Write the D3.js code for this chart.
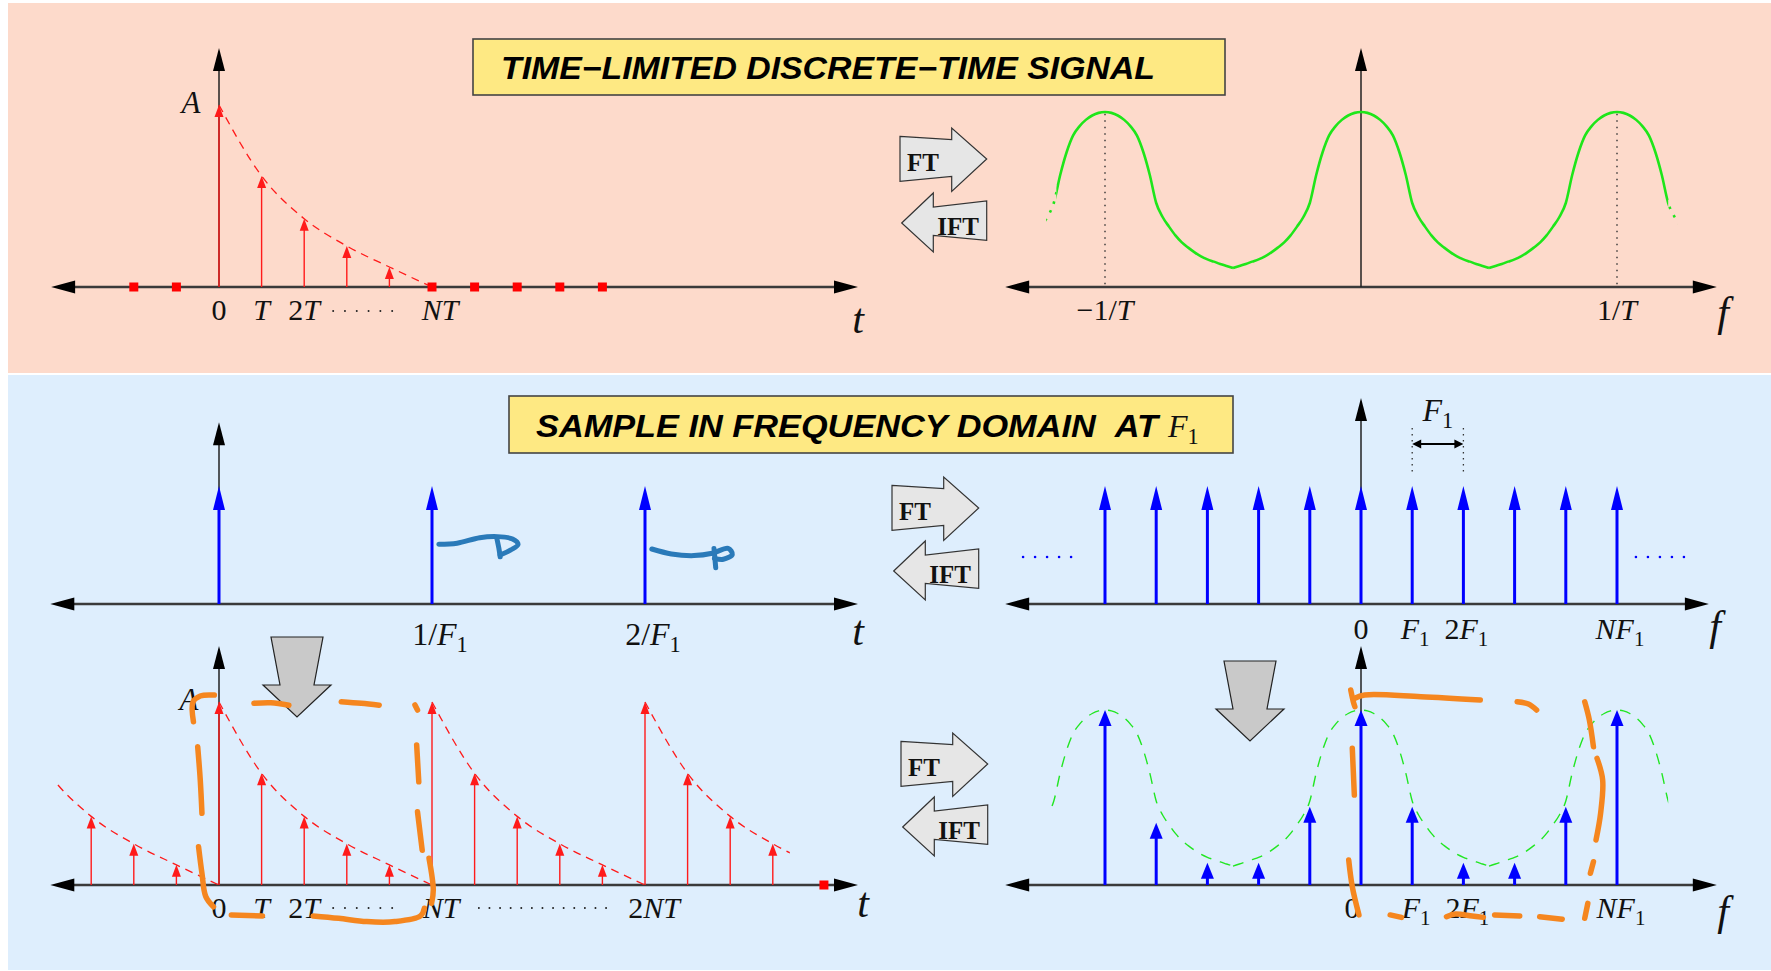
<!DOCTYPE html>
<html>
<head>
<meta charset="utf-8">
<script src="https://cdn.jsdelivr.net/npm/d3@7"></script>
<style>
  html, body { margin: 0; padding: 0; background: #fff; }
  svg { display: block; }
</style>
</head>
<body>
<svg id="chart" width="1771" height="971"></svg>
<script>
// ---------- data ----------
// time-limited sequence, t in units of T, amplitude relative to A
const pulseT = [0, 1, 2, 3, 4];
const pulseA = [1, 0.61, 0.375, 0.225, 0.11];
const envelopeT = [0, 1, 2, 3, 4, 5];
const envelopeA = [1, 0.61, 0.375, 0.225, 0.11, 0];
const zeroT = [-2, -1, 5, 6, 7, 8, 9];

// periodic extension (bottom left)
const periodicT = [-3, -2, -1, 0, 1, 2, 3, 4, 5, 6, 7, 8, 9, 10, 11, 12, 13];
const periodicA = [0.375, 0.225, 0.11, 1, 0.61, 0.375, 0.225, 0.11, 1, 0.61, 0.375, 0.225, 0.11, 1, 0.61, 0.375, 0.225];
const envelopeShifts = [-5, 0, 5, 10];
const strayZeroT = [14.2];

// impulse train in time (middle left), t in units of T
const combT = [0, 5, 10];

// spectrum, one period, f in units of 1/T
const specF = [-0.5, -0.475, -0.45, -0.425, -0.4, -0.375, -0.35, -0.325, -0.3, -0.275, -0.25,
  -0.225, -0.2, -0.175, -0.15, -0.125, -0.1, -0.075, -0.05, -0.025, 0,
  0.025, 0.05, 0.075, 0.1, 0.125, 0.15, 0.175, 0.2, 0.225, 0.25,
  0.275, 0.3, 0.325, 0.35, 0.375, 0.4, 0.425, 0.45, 0.475, 0.5];
const specMag = [0.108, 0.12, 0.132, 0.145, 0.158, 0.175, 0.198, 0.225, 0.255, 0.295, 0.345,
  0.40, 0.48, 0.64, 0.77, 0.865, 0.918, 0.955, 0.98, 0.995, 1,
  0.995, 0.98, 0.955, 0.918, 0.865, 0.77, 0.64, 0.48, 0.40, 0.345,
  0.295, 0.255, 0.225, 0.198, 0.175, 0.158, 0.145, 0.132, 0.12, 0.108];
const specShifts = [-1, 0, 1];

// frequency samples, k in units of F1
const combK = [-5, -4, -3, -2, -1, 0, 1, 2, 3, 4, 5];
const sampledK = [-5, -4, -3, -2, -1, 0, 1, 2, 3, 4, 5];
const sampledMag = [1, 0.356, 0.127, 0.127, 0.447, 1, 0.447, 0.127, 0.127, 0.447, 1];

// tick labels
const topLeftTicks = [0, 1, 2, 5];
const topLeftLabels = ["0", "T", "2T", "NT"];
const topRightTicks = [-1, 1];
const topRightLabels = ["\u22121/T", "1/T"];
const midLeftTicks = [5, 10];
const midLeftLabels = ["1/F_1", "2/F_1"];
const rightTicksK = [0, 1, 2, 5];
const rightLabels = ["0", "F_1", "2F_1", "NF_1"];
const botLeftTicks = [0, 1, 2, 5, 10];
const botLeftLabels = ["0", "T", "2T", "NT", "2NT"];

// hand-drawn marks, bottom left [t, a]
const orangeLeft = [
  [[-0.60, 0.892], [-0.61, 1.0], [-0.44, 1.033], [-0.11, 1.038]],
  [[0.82, 0.993], [1.22, 0.996], [1.64, 0.982]],
  [[2.87, 1.002], [3.34, 0.993], [3.76, 0.982]],
  [[4.60, 0.984], [4.66, 0.956]],
  [[4.64, 0.765], [4.69, 0.564]],
  [[4.66, 0.40], [4.77, 0.19]],
  [[4.93, 0.146], [5.03, -0.027], [4.99, -0.10]],
  [[-0.50, 0.756], [-0.44, 0.574], [-0.40, 0.392]],
  [[-0.48, 0.209], [-0.40, 0.064], [-0.31, -0.064], [-0.13, -0.119]],
  [[0.29, -0.164], [1.02, -0.169]],
  [[2.21, -0.169], [2.81, -0.182], [3.47, -0.2], [4.13, -0.2], [4.73, -0.169], [4.82, -0.127]]
];
// hand-drawn marks, bottom right [k, magnitude]
const orangeRight = [
  [[-0.20, 1.114], [-0.15, 1.047], [-0.12, 1.019]],
  [[-0.12, 1.067], [0.07, 1.086], [1.17, 1.076], [2.33, 1.057]],
  [[3.05, 1.047], [3.27, 1.034], [3.43, 1.0]],
  [[4.37, 1.047], [4.46, 0.943], [4.54, 0.79]],
  [[4.61, 0.724], [4.72, 0.6], [4.68, 0.41], [4.59, 0.257]],
  [[4.54, 0.133], [4.48, 0.067]],
  [[4.43, -0.105], [4.37, -0.19]],
  [[-0.17, 0.781], [-0.13, 0.514]],
  [[-0.24, 0.143], [-0.17, -0.01], [-0.04, -0.171]],
  [[0.57, -0.171], [0.79, -0.185]],
  [[1.67, -0.181], [1.84, -0.166], [2.17, -0.177], [2.39, -0.185]],
  [[2.61, -0.171], [3.10, -0.177]],
  [[3.49, -0.181], [3.93, -0.196]]
];
// hand-drawn marks, middle left [t, a]
const blueScribbles = [
  [[5.16, 0.506], [5.59, 0.515], [6.12, 0.562], [6.54, 0.571], [6.89, 0.551], [7.02, 0.506], [6.85, 0.458], [6.6, 0.415]],
  [[6.52, 0.56], [6.57, 0.472], [6.6, 0.40]],
  [[10.16, 0.466], [10.62, 0.424], [11.15, 0.41], [11.58, 0.43], [11.95, 0.472], [12.05, 0.421], [11.84, 0.379], [11.63, 0.387]],
  [[11.62, 0.47], [11.66, 0.308]]
];

// ---------- setup ----------
const W = 1771, H = 971;
const svg = d3.select("#chart");
const serif = "'Liberation Serif', 'Times New Roman', serif";
const sans = "'Liberation Sans', Arial, sans-serif";

const xLeft = d3.scaleLinear().domain([0, 5]).range([219, 432]);     // t / T
const xRight = d3.scaleLinear().domain([0, 1]).range([1361, 1617]);  // f * T
const xRightK = d3.scaleLinear().domain([0, 5]).range([1361, 1617]); // f / F1

const yTopL = d3.scaleLinear().domain([0, 1]).range([287, 105]);
const yTopR = d3.scaleLinear().domain([0, 1]).range([287, 112]);
const yMidL = d3.scaleLinear().domain([0, 1]).range([604, 486]);
const yMidR = d3.scaleLinear().domain([0, 1]).range([604, 486]);
const yBotL = d3.scaleLinear().domain([0, 1]).range([885, 702]);
const yBotR = d3.scaleLinear().domain([0, 1]).range([885, 710]);

// backgrounds
svg.append("rect").attr("x", 8).attr("y", 3).attr("width", W - 8).attr("height", 370).attr("fill", "#fddacb");
svg.append("rect").attr("x", 8).attr("y", 375).attr("width", W - 8).attr("height", H - 376).attr("fill", "#deeefd");

const defs = svg.append("defs");
let clipId = 0;
function clipX(x0, x1) {
  const id = "clip" + (clipId++);
  defs.append("clipPath").attr("id", id).append("rect")
    .attr("x", x0).attr("y", 0).attr("width", x1 - x0).attr("height", H);
  return "url(#" + id + ")";
}

function tri(g, pts, color) {
  g.append("polygon").attr("points", pts.map(p => p.join(",")).join(" ")).attr("fill", color);
}

// axes: double-headed horizontal, single vertical
function drawAxes(x, y, xMin, xMax, yMax) {
  const g = svg.append("g");
  const x0 = x(0), y0 = y(0), L = 24, hw = 6.5;
  const xa = x(xMin), xb = x(xMax);
  g.append("line").attr("x1", xa + L - 2).attr("x2", xb - L + 2).attr("y1", y0).attr("y2", y0)
    .attr("stroke", "#3a3a3a").attr("stroke-width", 2.4);
  tri(g, [[xa, y0], [xa + L, y0 - hw], [xa + L, y0 + hw]], "#000");
  tri(g, [[xb, y0], [xb - L, y0 - hw], [xb - L, y0 + hw]], "#000");
  const yt = y(yMax);
  g.append("line").attr("x1", x0).attr("x2", x0).attr("y1", y0).attr("y2", yt + 20)
    .attr("stroke", "#222").attr("stroke-width", 1.5);
  tri(g, [[x0, yt], [x0 - 6, yt + 23], [x0 + 6, yt + 23]], "#000");
}

// stem with an arrow head
function drawStems(xs, ys, x, y, color, width, half, headH) {
  const g = svg.append("g");
  xs.forEach((v, i) => {
    const px = x(v), base = y(0), tip = y(ys[i]);
    g.append("line").attr("x1", px).attr("x2", px).attr("y1", base).attr("y2", tip + headH - 1)
      .attr("stroke", color).attr("stroke-width", width);
    tri(g, [[px, tip], [px - half, tip + headH], [px + half, tip + headH]], color);
  });
}

// math-style label: letters italic, digits upright, "_x" subscript
function mathText(g, x, y, str, size, anchor) {
  const t = g.append("text").attr("x", x).attr("y", y).attr("text-anchor", anchor || "middle")
    .attr("font-family", serif).attr("font-size", size).attr("fill", "#111");
  let i = 0, shifted = false;
  while (i < str.length) {
    const ch = str[i];
    if (ch === "_") {
      t.append("tspan").attr("font-size", size * 0.7).attr("dy", size * 0.22).text(str[i + 1]);
      shifted = true; i += 2; continue;
    }
    const sp = t.append("tspan").text(ch);
    if (/[A-Za-z]/.test(ch)) sp.attr("font-style", "italic");
    if (shifted) { sp.attr("dy", -size * 0.22); shifted = false; }
    i++;
  }
  return t;
}

function dotRow(g, x0, x1, y, color, gap, w) {
  g.append("line").attr("x1", x0).attr("x2", x1 + 1).attr("y1", y).attr("y2", y)
    .attr("stroke", color).attr("stroke-width", w).attr("stroke-linecap", "round")
    .attr("stroke-dasharray", "0," + gap);
}

// ---------- title boxes ----------
function titleBox(x, y, w, h) {
  svg.append("rect").attr("x", x).attr("y", y).attr("width", w).attr("height", h)
    .attr("fill", "#fee983").attr("stroke", "#444").attr("stroke-width", 1.6);
}
titleBox(473, 39, 752, 56);
svg.append("text").attr("x", 501).attr("y", 79).attr("font-family", sans).attr("font-weight", "bold")
  .attr("font-style", "italic").attr("font-size", 31).attr("textLength", 654).attr("lengthAdjust", "spacingAndGlyphs")
  .attr("fill", "#000").text("TIME\u2212LIMITED DISCRETE\u2212TIME SIGNAL");

titleBox(509, 396, 724, 57);
svg.append("text").attr("x", 536).attr("y", 437).attr("font-family", sans).attr("font-weight", "bold")
  .attr("font-style", "italic").attr("font-size", 31).attr("textLength", 622).attr("lengthAdjust", "spacingAndGlyphs")
  .attr("fill", "#000").text("SAMPLE IN FREQUENCY DOMAIN\u00a0\u00a0AT");
mathText(svg, 1168, 437, "F_1", 32, "start");

// ---------- top left: time-limited sequence ----------
drawAxes(xLeft, yTopL, -3.94, 15.0, 1.313);
const line = d3.line().curve(d3.curveMonotoneX);
svg.append("path")
  .attr("d", line(envelopeT.map((t, i) => [xLeft(t), yTopL(envelopeA[i])])))
  .attr("fill", "none").attr("stroke", "#ff1a1a").attr("stroke-width", 1.3).attr("stroke-dasharray", "8,6");
drawStems(pulseT, pulseA, xLeft, yTopL, "#ff1a1a", 1.4, 4.5, 12);
svg.append("g").selectAll("rect").data(zeroT).join("rect")
  .attr("x", d => xLeft(d) - 4.5).attr("y", yTopL(0) - 4.5).attr("width", 9).attr("height", 9).attr("fill", "#ff0000");
{
  const g = svg.append("g");
  topLeftTicks.forEach((t, i) => mathText(g, xLeft(t) + (i === 3 ? 8 : 0), 320, topLeftLabels[i], 30));
  dotRow(g, xLeft(2.68), xLeft(4.06), 311, "#222", 11.8, 2);
  mathText(g, 191, 113, "A", 31);
  mathText(g, 858, 333, "t", 42);
}

// ---------- top right: spectrum ----------
drawAxes(xRight, yTopR, -1.39, 1.39, 1.366);
{
  const g = svg.append("g");
  [-1, 1].forEach(f => g.append("line").attr("x1", xRight(f)).attr("x2", xRight(f))
    .attr("y1", yTopR(0.99)).attr("y2", yTopR(0)).attr("stroke", "#333").attr("stroke-width", 1.4)
    .attr("stroke-dasharray", "1.5,5"));
  const solid = clipX(xRight(-1.19), xRight(1.2));
  const tails = [clipX(xRight(-1.23), xRight(-1.19)), clipX(xRight(1.2), xRight(1.235))];
  specShifts.forEach(s => {
    const d = line(specF.map((f, i) => [xRight(f + s), yTopR(specMag[i])]));
    g.append("path").attr("d", d).attr("clip-path", solid).attr("fill", "none")
      .attr("stroke", "#1ee61a").attr("stroke-width", 2.6);
    tails.forEach(c => g.append("path").attr("d", d).attr("clip-path", c).attr("fill", "none")
      .attr("stroke", "#1ee61a").attr("stroke-width", 2.6).attr("stroke-dasharray", "2.5,7"));
  });
  topRightTicks.forEach((f, i) => mathText(g, xRight(f), 320, topRightLabels[i], 30));
  mathText(g, 1723, 326, "f", 42);
}

// ---------- middle left: impulse train in time ----------
drawAxes(xLeft, yMidL, -3.96, 15.0, 1.54);
drawStems(combT, combT.map(() => 1), xLeft, yMidL, "#0000ff", 3, 6, 24);
{
  const g = svg.append("g");
  midLeftTicks.forEach((t, i) => mathText(g, xLeft(t) + 8, 645, midLeftLabels[i], 32));
  mathText(g, 858, 645, "t", 42);
}

// ---------- middle right: impulse train in frequency ----------
drawAxes(xRight, yMidR, -1.39, 1.359, 1.746);
drawStems(combK, combK.map(() => 1), xRightK, yMidR, "#0000ff", 3, 6, 24);
{
  const g = svg.append("g");
  dotRow(g, xRight(-1.32), xRight(-1.133), 557, "#0000ff", 12, 2.6);
  dotRow(g, xRight(1.074), xRight(1.262), 557, "#0000ff", 12, 2.6);
  [1, 2].forEach(k => g.append("line").attr("x1", xRightK(k)).attr("x2", xRightK(k))
    .attr("y1", 428).attr("y2", 476).attr("stroke", "#333").attr("stroke-width", 1.3).attr("stroke-dasharray", "1.5,4.5"));
  const xa = xRightK(1), xb = xRightK(2), ya = 444;
  g.append("line").attr("x1", xa + 6).attr("x2", xb - 6).attr("y1", ya).attr("y2", ya).attr("stroke", "#000").attr("stroke-width", 1.8);
  tri(g, [[xa, ya], [xa + 9, ya - 4.5], [xa + 9, ya + 4.5]], "#000");
  tri(g, [[xb, ya], [xb - 9, ya - 4.5], [xb - 9, ya + 4.5]], "#000");
  mathText(g, (xa + xb) / 2, 421, "F_1", 32);
  rightTicksK.forEach((k, i) => mathText(g, xRightK(k) + (i === 0 ? 0 : 3), 639, rightLabels[i], 30));
  mathText(g, 1715, 640, "f", 42);
}

// ---------- bottom left: periodic extension ----------
drawAxes(xLeft, yBotL, -3.96, 15.0, 1.306);
{
  const g = svg.append("g");
  const c = clipX(xLeft(-3.83), xLeft(13.4));
  envelopeShifts.forEach(s => g.append("path")
    .attr("d", line(envelopeT.map((t, i) => [xLeft(t + s), yBotL(envelopeA[i])])))
    .attr("clip-path", c).attr("fill", "none").attr("stroke", "#ff1a1a").attr("stroke-width", 1.3)
    .attr("stroke-dasharray", "8,6"));
}
drawStems(periodicT, periodicA, xLeft, yBotL, "#ff1a1a", 1.4, 4.5, 12);
svg.append("g").selectAll("rect").data(strayZeroT).join("rect")
  .attr("x", d => xLeft(d) - 4.5).attr("y", yBotL(0) - 4.5).attr("width", 9).attr("height", 9).attr("fill", "#ff0000");
{
  const g = svg.append("g");
  botLeftTicks.forEach((t, i) => mathText(g, xLeft(t) + (i >= 3 ? 9 : 0), 918, botLeftLabels[i], 30));
  dotRow(g, xLeft(2.68), xLeft(4.06), 908, "#222", 11.8, 2);
  dotRow(g, xLeft(6.1), xLeft(9.1), 908, "#222", 10.6, 2);
  mathText(g, 189, 710, "A", 31);
  mathText(g, 863, 917, "t", 42);
}

// ---------- bottom right: sampled spectrum ----------
drawAxes(xRight, yBotR, -1.39, 1.39, 1.366);
{
  const g = svg.append("g");
  const c = clipX(xRight(-1.215), xRight(1.2));
  specShifts.forEach(s => g.append("path")
    .attr("d", line(specF.map((f, i) => [xRight(f + s), yBotR(specMag[i])])))
    .attr("clip-path", c).attr("fill", "none").attr("stroke", "#22e622").attr("stroke-width", 1.4)
    .attr("stroke-dasharray", "11,9"));
}
drawStems(sampledK, sampledMag, xRightK, yBotR, "#0000ff", 3, 6.5, 16);
{
  const g = svg.append("g");
  rightTicksK.forEach((k, i) => mathText(g, xRightK(k) + (i === 0 ? -9 : 4), 918, rightLabels[i], 30));
  mathText(g, 1723, 925, "f", 42);
}

// ---------- FT / IFT block arrows ----------
const ftShape = [[0, 8.4], [51.7, 11.7], [51.7, 0], [86.7, 31], [51.7, 63.4], [51.7, 48.4], [0, 53.4]];
const iftShape = [[1.7, 30], [33.3, 0], [33.3, 14], [86.7, 8], [86.7, 47.3], [33.3, 42.3], [33.3, 59]];
function ftPair(x, yFt, yIft) {
  const g = svg.append("g");
  g.append("polygon").attr("points", ftShape.map(p => [x + p[0], yFt + p[1]].join(",")).join(" "))
    .attr("fill", "#e6e6e6").attr("stroke", "#333").attr("stroke-width", 1.2);
  g.append("text").attr("x", x + 23).attr("y", yFt + 43).attr("text-anchor", "middle")
    .attr("font-family", serif).attr("font-weight", "bold").attr("font-size", 25).attr("fill", "#111").text("FT");
  g.append("polygon").attr("points", iftShape.map(p => [x + p[0], yIft + p[1]].join(",")).join(" "))
    .attr("fill", "#e6e6e6").attr("stroke", "#333").attr("stroke-width", 1.2);
  g.append("text").attr("x", x + 58).attr("y", yIft + 42).attr("text-anchor", "middle")
    .attr("font-family", serif).attr("font-weight", "bold").attr("font-size", 25).attr("fill", "#111").text("IFT");
}
ftPair(900, 128, 193);
ftPair(892, 477, 541);
ftPair(901, 733, 797);

// ---------- gray down arrows ----------
const downShape = [[0, 0], [52, 0], [43, 48], [60, 48], [26, 80], [-8, 48], [9, 48]];
[[271, 637], [1224, 661]].forEach(([x, y]) => svg.append("polygon")
  .attr("points", downShape.map(p => [x + p[0], y + p[1]].join(",")).join(" "))
  .attr("fill", "#c9c9c9").attr("stroke", "#222").attr("stroke-width", 1.2));

// ---------- hand-drawn annotations ----------
const scribble = d3.line().curve(d3.curveCatmullRom);
{
  const g = svg.append("g").attr("fill", "none").attr("stroke-linecap", "round").attr("stroke-linejoin", "round");
  blueScribbles.forEach(s => g.append("path").attr("d", scribble(s.map(p => [xLeft(p[0]), yMidL(p[1])])))
    .attr("stroke", "#2a7ab9").attr("stroke-width", 5));
  orangeLeft.forEach(s => g.append("path").attr("d", scribble(s.map(p => [xLeft(p[0]), yBotL(p[1])])))
    .attr("stroke", "#f5861f").attr("stroke-width", 5.5));
  orangeRight.forEach(s => g.append("path").attr("d", scribble(s.map(p => [xRightK(p[0]), yBotR(p[1])])))
    .attr("stroke", "#f5861f").attr("stroke-width", 5.5));
}
</script>
</body>
</html>
